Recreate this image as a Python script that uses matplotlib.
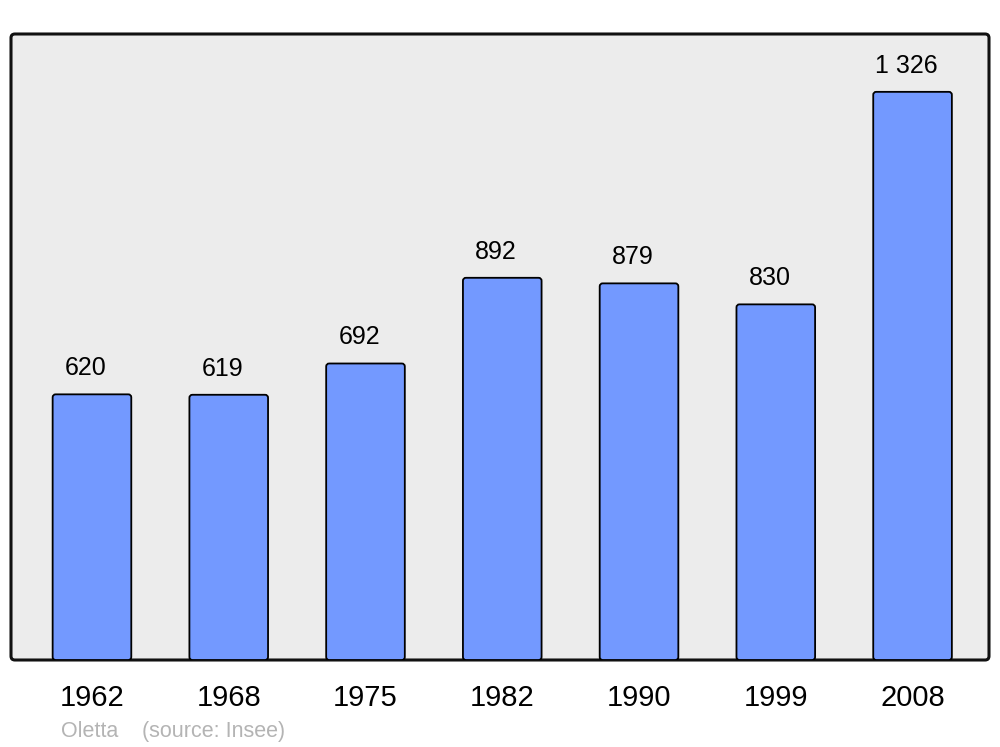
import matplotlib.pyplot as plt
from matplotlib.patches import FancyBboxPatch

years = ["1962", "1968", "1975", "1982", "1990", "1999", "2008"]
population = [620, 619, 692, 892, 879, 830, 1326]
value_labels = ["620", "619", "692", "892", "879", "830", "1 326"]

plt.rcParams['font.family'] = ['Liberation Sans', 'DejaVu Sans']

fig = plt.figure(figsize=(10, 7.47), dpi=100)
ax = fig.add_axes([0.011, 87 / 747, 0.978, 626 / 747])
ax.set_facecolor("none")

x = list(range(len(years)))
bars = ax.bar(x, population, width=0.575, color="#7399ff")
ax.set_xlim(-0.592, 6.559)
ax.set_ylim(0, 1461)

# fond et cadre arrondis
bg = FancyBboxPatch((0, 0), 1, 1, boxstyle="round,pad=0,rounding_size=0.004",
                    mutation_aspect=978 / 626, transform=ax.transAxes,
                    facecolor="#ececec", edgecolor="#111111", linewidth=2.2,
                    zorder=0, clip_on=False)
ax.add_patch(bg)

# barres avec coins arrondis
for b in bars:
    b.set_visible(False)
    p = FancyBboxPatch((b.get_x(), b.get_y()), b.get_width(), b.get_height(),
                       boxstyle="round,pad=0,rounding_size=0.022",
                       mutation_aspect=319, facecolor="#7399ff",
                       edgecolor="black", linewidth=1.3, zorder=2)
    ax.add_patch(p)

for xi, v, lab in zip(x, population, value_labels):
    ax.annotate(lab, (xi - 0.045, v), xytext=(0, 13.7), textcoords="offset points",
                ha="center", va="baseline", fontsize=18, color="black")

for s in ax.spines.values():
    s.set_visible(False)
ax.set_yticks([])
ax.set_xticks(x)
ax.set_xticklabels(years, fontsize=21)
ax.tick_params(axis="x", length=0, pad=17)

fig.text(0.061, 10 / 747, "Oletta", fontsize=15.5, color="#b4b4b4", va="baseline")
fig.text(0.142, 10 / 747, "(source: Insee)", fontsize=15.5, color="#b4b4b4", va="baseline")

fig.savefig("out.png", dpi=100)
